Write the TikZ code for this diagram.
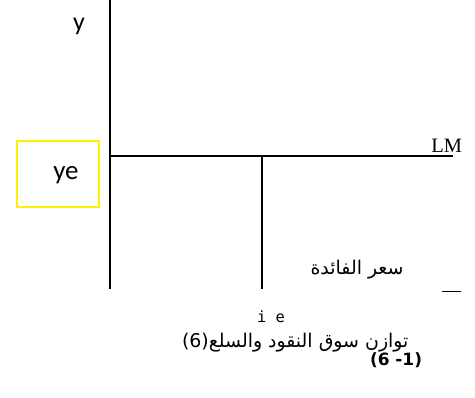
\documentclass[tikz,border=0pt]{standalone}
\usepackage{fontspec}
\setmainfont{Carlito}
\newfontfamily\arabicfont[Script=Arabic]{DejaVu Sans}
\newfontfamily\timesfont{Liberation Serif}
\newfontfamily\monofont{DejaVu Sans Mono}
\newfontfamily\boldsans{DejaVu Sans}[BoldFont={DejaVu Sans Bold}]
\TeXXeTstate=1
\begin{document}
\begin{tikzpicture}[x=1bp,y=-1bp,
  axisline/.style={line width=1.5bp,black},
  lbl/.style={inner sep=0pt,outer sep=0pt}]
\useasboundingbox (0,0) rectangle (475,397);
% axes
\coordinate (ytop) at (110,0);
\coordinate (ybot) at (110,289);
\coordinate (lmstart) at (110,156);
\coordinate (lmend) at (453,156);
\coordinate (ietop) at (262,156);
\coordinate (iebot) at (262,289);
\coordinate (dashl) at (442,291.5);
\coordinate (dashr) at (461,291.5);
\draw[axisline] (ytop) -- (ybot);
\draw[axisline] (lmstart) -- (lmend);
\draw[axisline] (ietop) -- (iebot);
\draw[axisline] (dashl) -- (dashr);
% labels
\node[lbl,anchor=east] (num) at (422,360) {\boldsans\bfseries\fontsize{17}{20}\selectfont\hbox{(}\hbox{6}\hbox{\ }\hbox{-}\hbox{1}\hbox{)}};
\node[lbl] (ylab) at (79,26) {\fontsize{26}{30}\selectfont y};
\node[draw=yellow,line width=1.2bp,minimum width=82bp,minimum height=66bp,inner sep=0pt] (yebox) at (58,174) {};
\node[lbl] (yelab) at (66,175) {\fontsize{27}{30}\selectfont ye};
\node[lbl,anchor=base east] (lm) at (462,152) {\timesfont\fontsize{20.5}{24}\selectfont LM};
\node[lbl] (rate) at (357,270) {\arabicfont\fontsize{19}{22}\selectfont\beginR سعر الفائدة\endR};
\node[lbl] (ie) at (271,317) {\monofont\fontsize{15.5}{18}\selectfont i e};
\node[lbl,anchor=west] (cap) at (182,343) {\arabicfont\fontsize{19}{22}\selectfont\beginR توازن سوق النقود والسلع\beginL(6)\endL\endR};
\end{tikzpicture}
\end{document}
